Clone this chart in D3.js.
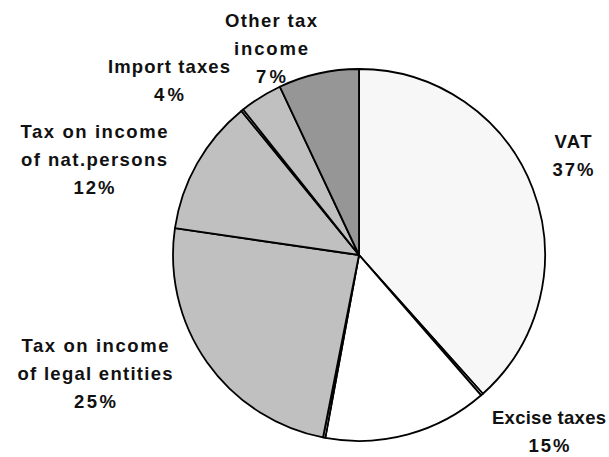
<!DOCTYPE html>
<html>
<head>
<meta charset="utf-8">
<script src="https://cdn.jsdelivr.net/npm/d3@7"></script>
<style>
  body { margin: 0; background: #fff; }
  text { font-family: "Liberation Sans", Arial, sans-serif; font-weight: bold; fill: #111; }
</style>
</head>
<body>
<div id="chart"></div>
<script>
// slices clockwise from 12 o'clock; the unnamed ones are the thin slivers
var categories = ["VAT", "", "Excise taxes", "", "Tax on income\nof legal entities", "Tax on income\nof nat.persons", "", "Import taxes", "Other tax\nincome"]
var shares = [38.4, 0.2, 14.3, 0.2, 24.2, 11.8, 0.2, 3.7, 7.0]
var pctLabels = ["37%", "", "15%", "", "25%", "12%", "", "4%", "7%"]

var fills = ["#f7f7f7", "#ffffff", "#ffffff", "#ffffff", "#c0c0c0", "#c0c0c0", "#ffffff", "#c0c0c0", "#969696"]

// where each label sits (centre x, first baseline y) and how wide each line is drawn
var labelLayout = [
    { i: 0, x: 573, y: 148, widths: [37, 41] },
    { i: 2, x: 549, y: 424, widths: [114, 41] },
    { i: 4, x: 95, y: 352, widths: [147, 155, 42] },
    { i: 5, x: 94, y: 138, widths: [147, 146, 41] },
    { i: 7, x: 169, y: 73, widths: [122, 30] },
    { i: 8, x: 271, y: 27, widths: [92, 74, 30] }
]

var width = 609
var height = 457
var cx = 359, cy = 255, radius = 186
var lineGap = 28

var svg = d3.select("#chart")
    .append("svg")
    .attr("width", width)
    .attr("height", height)

var pie = d3.pie().sort(null).value(d => d)
var arc = d3.arc().innerRadius(0).outerRadius(radius)

svg.append("g")
    .attr("transform", "translate(" + cx + "," + cy + ")")
    .selectAll("path")
    .data(pie(shares))
    .join("path")
    .attr("d", arc)
    .attr("fill", (d, i) => fills[i])
    .attr("stroke", "#000")
    .attr("stroke-width", 1.8)
    .attr("stroke-linejoin", "round")

var labels = svg.append("g")
    .selectAll("text")
    .data(labelLayout)
    .join("text")
    .attr("text-anchor", "middle")
    .style("font-size", "18.5px")

labels.each(function (d) {
    var lines = categories[d.i].split("\n").concat([pctLabels[d.i]])
    d3.select(this).selectAll("tspan")
        .data(lines)
        .join("tspan")
        .attr("x", d.x)
        .attr("y", (t, k) => d.y + k * lineGap)
        .attr("textLength", (t, k) => d.widths[k])
        .attr("lengthAdjust", "spacing")
        .text(t => t)
})
</script>
</body>
</html>
